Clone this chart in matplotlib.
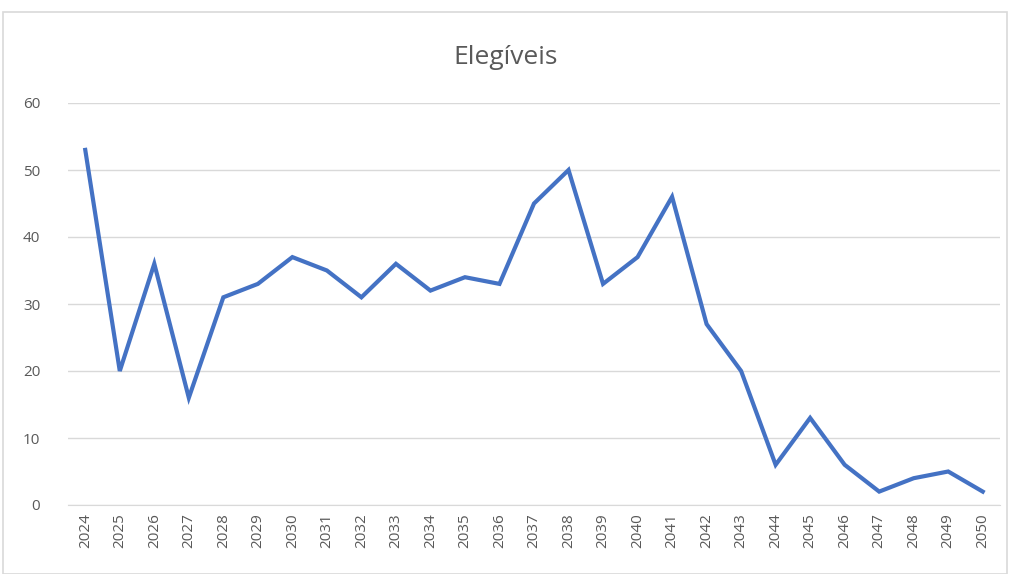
import matplotlib
matplotlib.use('Agg')
import matplotlib.pyplot as plt
from matplotlib.patches import Rectangle

years = [str(y) for y in range(2024, 2051)]
elegiveis = [53, 20, 36, 16, 31, 33, 37, 35, 31, 36, 32, 34, 33, 45, 50,
             33, 37, 46, 27, 20, 6, 13, 6, 2, 4, 5, 2]
yticks = [0, 10, 20, 30, 40, 50, 60]

plt.rcParams['font.family'] = ['Open Sans', 'DejaVu Sans']
fig = plt.figure(figsize=(10.12, 5.74), dpi=100)
fig.patches.append(Rectangle((3/1012, 0), 1004/1012, 1-12/574, transform=fig.transFigure,
                             fill=False, edgecolor='#d9d9d9', linewidth=1.2))
ax = fig.add_axes([68/1012, 1-505/574, 932/1012, 402/574])

x = list(range(len(years)))
ax.plot(x, elegiveis, color='#4472C4', linewidth=3.0, solid_joinstyle='miter')
ax.set_xlim(-0.5, len(years)-0.5)
ax.set_ylim(0, 60)
ax.set_yticks(yticks)
ax.set_xticks(x)
ax.set_xticklabels(years, rotation=90)
ax.grid(axis='y', color='#d9d9d9', linewidth=1)
ax.set_axisbelow(True)
for s in ['top', 'right', 'left']:
    ax.spines[s].set_visible(False)
ax.spines['bottom'].set_color('#d9d9d9')
ax.tick_params(axis='both', length=0, colors='#595959', labelsize=11)
ax.tick_params(axis='y', pad=20)
ax.tick_params(axis='x', pad=6)
fig.text(0.5, 1-57/574, 'Elegíveis', ha='center', va='center', fontsize=19, color='#595959')

fig.savefig('out.png', dpi=100)
